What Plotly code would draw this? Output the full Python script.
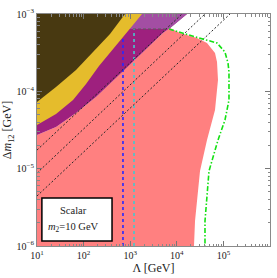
import plotly.graph_objects as go

# ---- data (Lambda [GeV], Delta m_12 [GeV]) ----
# dark region: lower boundary (closed through the top-left corner)
dark_lam = [10, 25.6, 68.7, 184.5, 369, 773]
dark_dm = [7.28e-5, 1.14e-4, 1.89e-4, 3.52e-4, 5.51e-4, 1.0e-3]

# yellow band: lower boundary
yel_lam = [10, 25.6, 59.3, 112.7, 214, 369, 700, 1148, 1791]
yel_dm = [3.66e-5, 5.08e-5, 7.71e-5, 1.24e-4, 2.12e-4, 3.13e-4, 4.90e-4, 7.21e-4, 1.0e-3]

# magenta region: lower boundary (magenta / pink) and upper-right edge
mag_lam = [10, 25.6, 68.7, 184.5, 495, 1208, 2080, 5058, 7145, 16560]
mag_dm = [2.72e-5, 3.45e-5, 5.24e-5, 8.43e-5, 1.49e-4, 2.47e-4, 3.42e-4, 5.68e-4, 6.59e-4, 1.0e-3]

# light purple region (above horizontal cut)
lp_lam = [1000, 6800, 16560, 1000]
lp_dm = [6.40e-4, 6.40e-4, 1.0e-3, 1.0e-3]
hcut_lam = [1148, 6471]
hcut_dm = [6.40e-4, 6.40e-4]

# pink region: right boundary (top to bottom)
pink_lam = [11720, 27100, 44460, 66070, 72950, 76560, 66070, 44460, 31480, 24600, 23390]
pink_dm = [5.68e-4, 4.90e-4, 4.22e-4, 3.13e-4, 2.39e-4, 1.40e-4, 5.73e-5, 2.34e-5, 9.31e-6, 2.10e-6, 1.0e-6]

# green dash-dot curve
grn_lam = [6808, 11720, 29920, 72950, 108100, 125600, 131800, 131800, 108100, 76560, 49090, 40270, 40270]
grn_dm = [6.40e-4, 5.85e-4, 4.90e-4, 4.22e-4, 3.22e-4, 2.32e-4, 1.78e-4, 7.71e-5, 4.26e-5, 2.34e-5, 9.31e-6, 2.10e-6, 1.0e-6]

# diagonal dashed lines (start at Lambda=10, end at top edge)
diag_start_dm = [1.74e-5, 8.77e-6, 4.43e-6]
diag_end_lam = [12940, 40270, 138700]

# vertical dotted lines
blue_lam = 700
cyan_lam = 1208

x_ticks = [1e1, 1e2, 1e3, 1e4, 1e5, 1e6]
x_ticktext = ["10<sup>1</sup>", "10<sup>2</sup>", "10<sup>3</sup>", "10<sup>4</sup>", "10<sup>5</sup>", "10<sup>6</sup>"]
y_ticks = [1e-6, 1e-5, 1e-4, 1e-3]
y_ticktext = ["10<sup>−6</sup>", "10<sup>−5</sup>", "10<sup>−4</sup>", "10<sup>−3</sup>"]

XMIN, XMAX, YMIN, YMAX = 10, 1e6, 1e-6, 1e-3

PINK = "rgb(255,128,128)"
MAGENTA = "rgb(158,32,126)"
LPURPLE = "rgb(163,78,163)"
YELLOW = "rgb(229,188,44)"
DARK = "rgb(72,57,17)"
SERIF = "Liberation Serif, Times New Roman, serif"

fig = go.Figure()

def poly(xs, ys, color):
    fig.add_trace(go.Scatter(x=xs, y=ys, mode="lines", fill="toself",
                             fillcolor=color, line=dict(width=0, color=color),
                             hoverinfo="skip"))

# pink
poly([XMIN, XMIN] + mag_lam[:-1] + pink_lam + [XMIN],
     [YMIN, mag_dm[0]] + mag_dm[:-1] + pink_dm + [YMIN], PINK)
# magenta
poly(mag_lam + [XMIN, XMIN], mag_dm + [YMAX, mag_dm[0]], MAGENTA)
# vertical dotted lines
fig.add_trace(go.Scatter(x=[blue_lam, blue_lam], y=[YMIN, YMAX], mode="lines",
                         line=dict(color="rgb(40,40,255)", width=1.6, dash="dot"), hoverinfo="skip"))
fig.add_trace(go.Scatter(x=[cyan_lam, cyan_lam], y=[YMIN, YMAX], mode="lines",
                         line=dict(color="rgb(70,200,205)", width=1.6, dash="dot"), hoverinfo="skip"))
# light purple
poly(lp_lam + [lp_lam[0]], lp_dm + [lp_dm[0]], LPURPLE)
# yellow
poly(yel_lam + [XMIN, XMIN], yel_dm + [YMAX, yel_dm[0]], YELLOW)
# dark
poly(dark_lam + [XMIN, XMIN], dark_dm + [YMAX, dark_dm[0]], DARK)

# diagonal dashed lines
for d0, l1 in zip(diag_start_dm, diag_end_lam):
    fig.add_trace(go.Scatter(x=[XMIN, l1], y=[d0, YMAX], mode="lines",
                             line=dict(color="rgb(40,40,40)", width=1, dash="2px,2px"),
                             hoverinfo="skip"))
# horizontal dashed cut
fig.add_trace(go.Scatter(x=hcut_lam, y=hcut_dm, mode="lines",
                         line=dict(color="rgb(90,90,90)", width=1, dash="3px,2px"), hoverinfo="skip"))
# green dash-dot
fig.add_trace(go.Scatter(x=grn_lam, y=grn_dm, mode="lines",
                         line=dict(color="rgb(20,225,20)", width=1.6, dash="5px,2px,1.5px,2px"),
                         hoverinfo="skip"))

axis_common = dict(type="log", showgrid=False, zeroline=False, showline=True,
                   linecolor="#8a8a8a", linewidth=1, mirror="ticks", ticks="inside",
                   ticklen=5, tickcolor="#777", tickwidth=1,
                   tickfont=dict(family=SERIF, size=10, color="#222"),
                   minor=dict(ticks="inside", ticklen=2.5, tickcolor="#888", dtick="D1",
                              showgrid=False))

fig.update_layout(
    width=277, height=278,
    margin=dict(l=37, r=7, t=14, b=32),
    paper_bgcolor="white", plot_bgcolor="white",
    showlegend=False, hovermode=False,
    xaxis=dict(axis_common, range=[1, 6], tickvals=x_ticks, ticktext=x_ticktext,
               title=dict(text="Λ [GeV]", font=dict(family=SERIF, size=12, color="#222"),
                          standoff=2), automargin=False),
    yaxis=dict(axis_common, range=[-6, -3], tickvals=y_ticks, ticktext=y_ticktext,
               title=dict(text="Δ<i>m</i><sub>12</sub> [GeV]",
                          font=dict(family=SERIF, size=12, color="#222"), standoff=2),
               automargin=False),
)

fig.add_shape(type="rect", xref="paper", yref="paper", x0=0.021, x1=0.322, y0=0.022, y1=0.207,
              line=dict(color="black", width=1.5), fillcolor="white", layer="above")
fig.add_annotation(xref="paper", yref="paper", x=0.157, y=0.152, xanchor="center",
                   yanchor="middle", text="Scalar", showarrow=False,
                   font=dict(family=SERIF, size=10.5, color="#222"))
fig.add_annotation(xref="paper", yref="paper", x=0.157, y=0.078, xanchor="center",
                   yanchor="middle", text="<i>m</i><sub>2</sub>=10 GeV", showarrow=False,
                   font=dict(family=SERIF, size=10.5, color="#222"))

fig.write_html("out.html", config={"displayModeBar": False},
               post_script="document.body.style.margin='0px';")
